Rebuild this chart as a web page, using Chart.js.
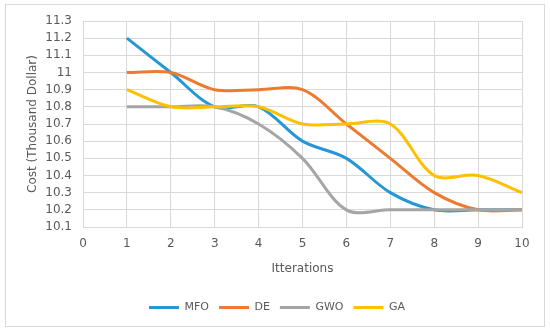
<!DOCTYPE html>
<html>
<head>
<meta charset="utf-8">
<script src="https://cdn.jsdelivr.net/npm/chart.js@4/dist/chart.umd.min.js"></script>
<style>
  html, body { margin: 0; padding: 0; background: #ffffff; }
  canvas { display: block; }
</style>
</head>
<body>
<canvas id="c" width="550" height="334"></canvas>
<script>
const iterations = [1, 2, 3, 4, 5, 6, 7, 8, 9, 10];
const mfo = [11.2, 11.0, 10.8, 10.8, 10.6, 10.5, 10.3, 10.2, 10.2, 10.2];
const de  = [11.0, 11.0, 10.9, 10.9, 10.9, 10.7, 10.5, 10.3, 10.2, 10.2];
const gwo = [10.8, 10.8, 10.8, 10.7, 10.5, 10.2, 10.2, 10.2, 10.2, 10.2];
const ga  = [10.9, 10.8, 10.8, 10.8, 10.7, 10.7, 10.7, 10.4, 10.4, 10.3];
const xTicks = [0, 1, 2, 3, 4, 5, 6, 7, 8, 9, 10];
const yTicks = [10.1, 10.2, 10.3, 10.4, 10.5, 10.6, 10.7, 10.8, 10.9, 11, 11.1, 11.2, 11.3];

const toPts = (arr) => arr.map((v, i) => ({ x: iterations[i], y: v }));
const textColor = '#595959';
const gridColor = '#d9d9d9';
const FONT = 'DejaVu Sans';

const mk = (label, data, color, order) => ({
  label, data: toPts(data), borderColor: color, backgroundColor: color,
  borderWidth: 3, pointRadius: 0, pointHoverRadius: 0, tension: 0.33,
  fill: false, order, pointStyle: 'line'
});

const frame = {
  id: 'frame',
  beforeDraw(chart) {
    const ctx = chart.ctx;
    ctx.save();
    ctx.fillStyle = '#ffffff';
    ctx.fillRect(0, 0, chart.width, chart.height);
    ctx.strokeStyle = gridColor;
    ctx.lineWidth = 1;
    ctx.strokeRect(5.5, 4.5, 539, 322);
    ctx.restore();
  }
};

new Chart(document.getElementById('c'), {
  type: 'line',
  data: {
    datasets: [
      mk('MFO', mfo, '#2697D5', 4),
      mk('DE', de, '#EE7A30', 3),
      mk('GWO', gwo, '#A5A5A5', 2),
      mk('GA', ga, '#FFC000', 1)
    ]
  },
  options: {
    responsive: false,
    animation: false,
    layout: { padding: { left: 32, right: 28, top: 21, bottom: 11 } },
    plugins: {
      tooltip: { enabled: false },
      legend: {
        position: 'bottom',
        labels: {
          usePointStyle: true,
          pointStyle: 'line',
          pointStyleWidth: 30,
          color: textColor,
          font: { family: FONT, size: 11 },
          padding: 10,
          sort: (a, b) => a.datasetIndex - b.datasetIndex
        }
      }
    },
    scales: {
      x: {
        type: 'linear',
        min: 0, max: 10,
        afterBuildTicks: (s) => { s.ticks = xTicks.map(v => ({ value: v })); },
        afterFit: (s) => { s.height = 65; },
        grid: { color: gridColor, drawTicks: false },
        border: { color: gridColor },
        ticks: { color: textColor, font: { family: FONT, size: 12 }, padding: 10,
                 maxRotation: 0, autoSkip: false },
        title: { display: true, text: 'Itterations', color: textColor,
                 font: { family: FONT, size: 12 }, padding: { top: 0, bottom: 16 } }
      },
      y: {
        min: 10.1, max: 11.3,
        afterBuildTicks: (s) => { s.ticks = yTicks.map(v => ({ value: v })); },
        afterFit: (s) => { s.width = 51; },
        grid: { color: gridColor, drawTicks: false },
        border: { color: gridColor },
        ticks: { color: textColor, font: { family: FONT, size: 12 }, padding: 11,
                 autoSkip: false,
                 callback: (v) => String(Number(Number(v).toFixed(1))) },
        title: { display: true, text: 'Cost (Thousand Dollar)', color: textColor,
                 font: { family: FONT, size: 12 }, padding: { top: -6, bottom: 0 } }
      }
    }
  },
  plugins: [frame]
});
</script>
</body>
</html>
